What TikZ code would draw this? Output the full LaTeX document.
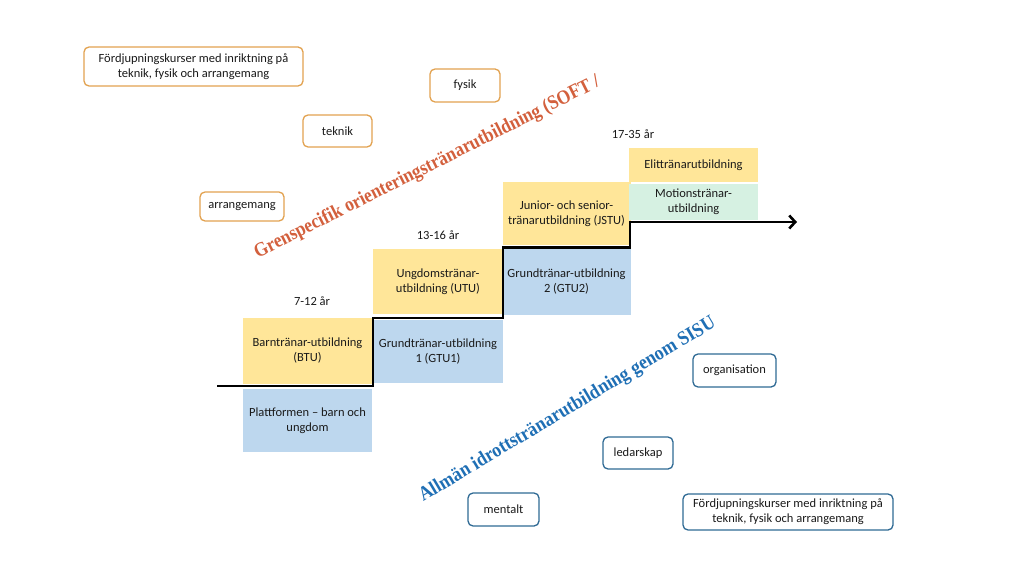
\documentclass[tikz,border=0pt]{standalone}
\usepackage{fontspec}
\setmainfont{Carlito}
\newfontfamily\titlefont{Liberation Serif}
\usetikzlibrary{arrows.meta}
\definecolor{yel}{HTML}{FFE699}
\definecolor{blu}{HTML}{BDD7EE}
\definecolor{grn}{HTML}{D6F1E2}
\definecolor{oborder}{HTML}{E2A250}
\definecolor{bborder}{HTML}{2F6A94}
\definecolor{otitle}{HTML}{D3603D}
\definecolor{btitle}{HTML}{1F6FB5}
\definecolor{txt}{HTML}{1A1A1A}
\tikzset{
  stepbox/.style={inner sep=0pt, align=center, text=txt, font=\fontsize{12.5}{15}\selectfont},
  ybox/.style={stepbox, fill=yel},
  bbox/.style={stepbox, fill=blu},
  gbox/.style={stepbox, fill=grn},
  obox/.style={draw=oborder, line width=1.3pt, rounded corners=5pt, fill=white, inner sep=0pt, align=center, text=txt, font=\fontsize{12.5}{15}\selectfont},
  rbox/.style={draw=bborder, line width=1.3pt, rounded corners=5pt, fill=white, inner sep=0pt, align=center, text=txt, font=\fontsize{12.5}{15}\selectfont},
  agelabel/.style={inner sep=0pt, text=txt, font=\fontsize{12.5}{15}\selectfont},
  stair/.style={line width=2.6pt, black, line join=miter},
  ttl/.style={inner sep=0pt, anchor=base, font=\titlefont\bfseries\fontsize{20}{24}\selectfont}
}
\begin{document}
\begin{tikzpicture}[x=1pt,y=-1pt]
\useasboundingbox[fill=white] (0,0) rectangle (1024,577);
% step boxes
\node[ybox, minimum width=129pt, minimum height=66pt] (barn) at (307.5,351) {Barntränar-utbildning\\(BTU)};
\node[bbox, minimum width=129pt, minimum height=63pt] (platt) at (307.5,420.5) {Plattformen – barn och\\ungdom};
\node[ybox, minimum width=130pt, minimum height=65pt] (utu) at (438,281.5) {Ungdomstränar-\\utbildning (UTU)};
\node[bbox, minimum width=130pt, minimum height=63pt] (gtu1) at (438,351.5) {Grundtränar-utbildning\\1 (GTU1)};
\node[ybox, minimum width=128pt, minimum height=63pt] (jstu) at (566.5,213.5) {Junior- och senior-\\tränarutbildning (JSTU)};
\node[bbox, minimum width=128pt, minimum height=66pt] (gtu2) at (566.5,282) {Grundtränar-utbildning\\2 (GTU2)};
\node[ybox, minimum width=129pt, minimum height=34pt] (elit) at (693.5,165) {Elittränarutbildning};
\node[gbox, minimum width=129pt, minimum height=36pt] (motion) at (693.5,202) {Motionstränar-\\utbildning};
% age labels
\node[agelabel] (a1) at (312,301) {7-12 år};
\node[agelabel] (a2) at (438,235) {13-16 år};
\node[agelabel] (a3) at (633,134) {17-35 år};
% staircase
\coordinate (s0) at (217,386);
\coordinate (s1) at (373,386);
\coordinate (s2) at (373,318);
\coordinate (s3) at (503,318);
\coordinate (s4) at (503,247.5);
\coordinate (s5) at (630,247.5);
\coordinate (s6) at (630,222);
\coordinate (s7) at (797,222);
\draw[stair, -{Straight Barb[length=6pt,width=13pt]}] (s0) -- (s1) -- (s2) -- (s3) -- (s4) -- (s5) -- (s6) -- (s7);
% orange rounded boxes
\node[obox, minimum width=219pt, minimum height=39pt] (fk1) at (193.5,66.5) {Fördjupningskurser med inriktning på\\teknik, fysik och arrangemang};
\node[obox, minimum width=70pt, minimum height=33pt] (fysik) at (465,85.5) {fysik};
\node[obox, minimum width=69pt, minimum height=32pt] (teknik) at (337.5,131) {teknik};
\node[obox, minimum width=84pt, minimum height=29pt] (arr) at (242,206.5) {arrangemang};
% blue rounded boxes
\node[rbox, minimum width=83pt, minimum height=33pt] (org) at (734.5,370.5) {organisation};
\node[rbox, minimum width=70pt, minimum height=32pt] (led) at (638,453) {ledarskap};
\node[rbox, minimum width=71pt, minimum height=33pt] (ment) at (503.5,509.5) {mentalt};
\node[rbox, minimum width=210pt, minimum height=36pt] (fk2) at (788,512) {Fördjupningskurser med inriktning på\\teknik, fysik och arrangemang};
% titles
\node[ttl, text=otitle, rotate=26.7] (t1) at (429.5,172) {\resizebox{384pt}{\height}{Grenspecifik orienteringstränarutbildning (SOFT /}};
\node[ttl, text=btitle, rotate=30.9] (t2) at (570,414) {\resizebox{342pt}{\height}{Allmän idrottstränarutbildning genom SISU}};
\end{tikzpicture}
\end{document}
